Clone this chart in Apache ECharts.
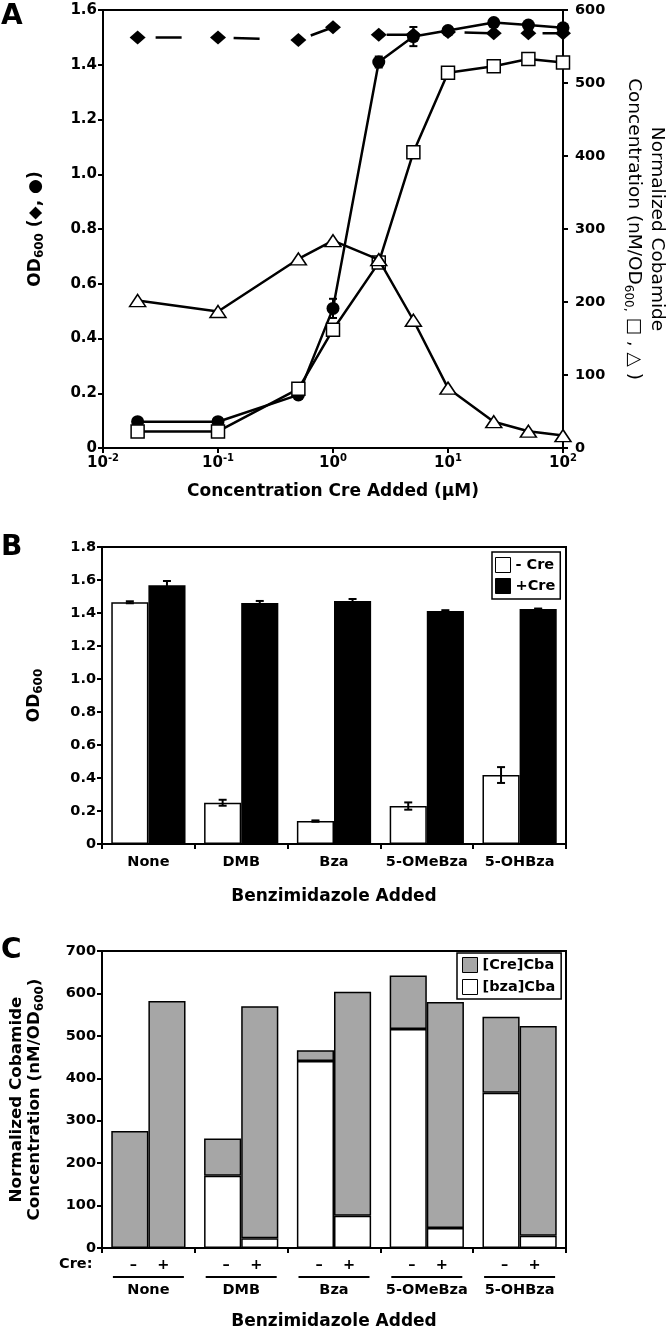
<!DOCTYPE html>
<html><head><meta charset="utf-8">
<script src="https://cdn.jsdelivr.net/npm/echarts@6/dist/echarts.min.js"></script>
<style>html,body{margin:0;padding:0;background:#fff}#c{width:666px;height:1328px}</style>
</head><body><div id="c"></div>
<script>
// ---------- Panel A data ----------
const creConc = [0.02, 0.1, 0.5, 1, 2.5, 5, 10, 25, 50, 100];
const odDiamond = [1.50, 1.50, 1.49, 1.537, 1.51, 1.51, 1.52, 1.515, 1.515, 1.515];
const odCircle = [0.096, 0.096, 0.194, 0.51, 1.41, 1.503, 1.525, 1.554, 1.545, 1.535];
const odCircleErr = [0, 0, 0, 0.035, 0.02, 0.035, 0.01, 0.01, 0.01, 0.01];
const cobaSquare = [22.7, 22.7, 81, 162, 254, 405, 514, 523, 533, 528];
const cobaTriangle = [202, 187, 259, 284, 258, 175, 82, 36, 23, 17];
// ---------- Panel B data ----------
const benzCats = ['None', 'DMB', 'Bza', '5-OMeBza', '5-OHBza'];
const odMinusCre = [1.465, 0.25, 0.139, 0.23, 0.418];
const odMinusCreErr = [0.006, 0.018, 0.004, 0.022, 0.048];
const odPlusCre = [1.568, 1.461, 1.473, 1.412, 1.424];
const odPlusCreErr = [0.026, 0.012, 0.012, 0.005, 0.003];
// ---------- Panel C data ----------
const bzaCbaMinus = [0, 170, 441, 516, 366];
const creCbaMinus = [276, 88, 25, 126, 179];
const bzaCbaPlus = [0, 23, 76, 47, 29];
const creCbaPlus = [582, 547, 528, 533, 494];
const creSigns = ['–', '+'];

const FONT = 'DejaVu Sans';
const BLK = '#000';
const axLine = {show: true, lineStyle: {color: BLK, width: 2}};
const axTick = {show: true, length: 5, lineStyle: {color: BLK, width: 2}};
const tickFont = {fontFamily: FONT, fontWeight: 'bold', color: BLK};
const nameFont = {fontFamily: FONT, fontWeight: 'bold', fontSize: 17, color: BLK};

function errA(params, api) {
  const x = api.value(0), y = api.value(1), e = api.value(2);
  if (!e) return null;
  const t = api.coord([x, y + e]), b = api.coord([x, y - e]);
  const hw = 4, st = {stroke: BLK, lineWidth: 2};
  return {type: 'group', children: [
    {type: 'line', shape: {x1: t[0], y1: t[1], x2: b[0], y2: b[1]}, style: st},
    {type: 'line', shape: {x1: t[0] - hw, y1: t[1], x2: t[0] + hw, y2: t[1]}, style: st},
    {type: 'line', shape: {x1: b[0] - hw, y1: b[1], x2: b[0] + hw, y2: b[1]}, style: st}
  ]};
}
function errB(params, api) {
  const i = api.value(0), y = api.value(1), e = api.value(2), side = api.value(3);
  const band = api.size([1, 0])[0];
  const bw = band * 0.8 / 2;
  const off = side === 0 ? -bw / 2 : bw / 2;
  const t = api.coord([i, y + e]), b = api.coord([i, y - e]);
  const x = t[0] + off, hw = 4, st = {stroke: BLK, lineWidth: 2};
  return {type: 'group', children: [
    {type: 'line', shape: {x1: x, y1: t[1], x2: x, y2: b[1]}, style: st},
    {type: 'line', shape: {x1: x - hw, y1: t[1], x2: x + hw, y2: t[1]}, style: st},
    {type: 'line', shape: {x1: x - hw, y1: b[1], x2: x + hw, y2: b[1]}, style: st}
  ]};
}
const pair = (xs, ys) => xs.map((x, i) => [x, ys[i]]);
const letterStyle = {fontFamily: FONT, fontSize: 28, fontWeight: 'bold', color: BLK};

const chart = echarts.init(document.getElementById('c'), null, {renderer: 'canvas'});
const option = {
  animation: false,
  backgroundColor: '#fff',
  textStyle: {fontFamily: FONT, color: BLK},
  title: [
    {text: 'A', left: 1, top: 3, padding: 0, textStyle: letterStyle},
    {text: 'B', left: 1, top: 534, padding: 0, textStyle: letterStyle},
    {text: 'C', left: 1, top: 937, padding: 0, textStyle: letterStyle}
  ],
  grid: [
    {left: 103, top: 10, width: 460, height: 438, show: true, borderColor: BLK, borderWidth: 2, outerBoundsMode: 'none', containLabel: false},
    {left: 102, top: 547, width: 464, height: 297, show: true, borderColor: BLK, borderWidth: 2, outerBoundsMode: 'none', containLabel: false},
    {left: 102, top: 951, width: 464, height: 297, show: true, borderColor: BLK, borderWidth: 2, outerBoundsMode: 'none', containLabel: false}
  ],
  legend: [
    {data: ['- Cre', '+Cre'], orient: 'vertical', left: 492, top: 552, icon: 'rect',
     itemWidth: 15, itemHeight: 15, itemGap: 5, padding: [5, 5, 5, 3],
     borderColor: BLK, borderWidth: 1.5,
     itemStyle: {borderColor: BLK, borderWidth: 1},
     textStyle: {fontFamily: FONT, fontWeight: 'bold', fontSize: 14.5, color: BLK}},
    {data: ['[Cre]Cba', '[bza]Cba'], orient: 'vertical', left: 457, top: 953, icon: 'rect',
     itemWidth: 15, itemHeight: 15, itemGap: 6, padding: [4, 6, 4, 5],
     borderColor: BLK, borderWidth: 1.5,
     itemStyle: {borderColor: BLK, borderWidth: 1},
     textStyle: {fontFamily: FONT, fontWeight: 'bold', fontSize: 14.5, color: BLK}}
  ],
  xAxis: [
    {type: 'log', gridIndex: 0, logBase: 10, min: 0.01, max: 100,
     axisLine: axLine, axisTick: axTick, splitLine: {show: false}, minorTick: {show: false},
     axisLabel: {margin: 5, ...tickFont, fontSize: 15,
       formatter: v => '10{s|' + Math.round(Math.log10(v)) + '}',
       rich: {s: {fontFamily: FONT, fontWeight: 'bold', fontSize: 10, padding: [0, 0, 10, 0]}}},
     name: 'Concentration Cre Added (µM)', nameLocation: 'middle', nameGap: 35, nameTextStyle: nameFont},
    {type: 'category', gridIndex: 1, data: benzCats,
     axisLine: axLine, axisTick: axTick,
     axisLabel: {margin: 11, interval: 0, ...tickFont, fontSize: 14.5},
     name: 'Benzimidazole Added', nameLocation: 'middle', nameGap: 44, nameTextStyle: nameFont},
    {type: 'category', gridIndex: 2, data: benzCats,
     axisLine: axLine, axisTick: axTick,
     axisLabel: {margin: 9, interval: 0,
       formatter: v => '{m|' + creSigns[0] + '}{p|' + creSigns[1] + '}\n{ln|}\n{nm|' + v + '}',
       rich: {
         m: {width: 30, align: 'center', fontFamily: FONT, fontWeight: 'bold', fontSize: 14.5, lineHeight: 16},
         p: {width: 30, align: 'center', fontFamily: FONT, fontWeight: 'bold', fontSize: 14.5, lineHeight: 16},
         ln: {width: 71, height: 2, backgroundColor: BLK, lineHeight: 8},
         nm: {fontFamily: FONT, fontWeight: 'bold', fontSize: 14.5, lineHeight: 18}
       }},
     name: 'Benzimidazole Added', nameLocation: 'middle', nameGap: 65, nameTextStyle: nameFont}
  ],
  yAxis: [
    {type: 'value', gridIndex: 0, min: 0, max: 1.6, interval: 0.2, position: 'left',
     axisLine: axLine, axisTick: axTick, splitLine: {show: false},
     axisLabel: {margin: 6, ...tickFont, fontSize: 15, formatter: v => v === 0 ? '0' : v.toFixed(1)},
     name: 'OD{s|600} (◆, ●)', nameLocation: 'middle', nameRotate: 90, nameGap: 57,
     nameTextStyle: {...nameFont, rich: {s: {fontFamily: FONT, fontWeight: 'bold', fontSize: 12, padding: [9, 0, 0, 0]}}}},
    {type: 'value', gridIndex: 0, min: 0, max: 600, interval: 100, position: 'right',
     axisLine: axLine, axisTick: axTick, splitLine: {show: false},
     axisLabel: {margin: 12, ...tickFont, fontSize: 14.5},
     name: '{a|Normalized Cobamide}\n{a|Concentration (nM/OD}{s|600,}{a| □ , △ )}', nameLocation: 'middle', nameRotate: -90, nameGap: 59,
     nameTextStyle: {fontFamily: FONT, fontSize: 18.5, color: BLK, lineHeight: 23,
       rich: {a: {fontFamily: FONT, fontSize: 18.5, color: BLK, lineHeight: 23},
              s: {fontFamily: FONT, fontSize: 12, color: BLK, padding: [10, 0, 0, 0]}}}},
    {type: 'value', gridIndex: 1, min: 0, max: 1.8, interval: 0.2,
     axisLine: axLine, axisTick: axTick, splitLine: {show: false},
     axisLabel: {margin: 6, ...tickFont, fontSize: 14.5, formatter: v => v === 0 ? '0' : v.toFixed(1)},
     name: 'OD{s|600}', nameLocation: 'middle', nameRotate: 90, nameGap: 57,
     nameTextStyle: {...nameFont, rich: {s: {fontFamily: FONT, fontWeight: 'bold', fontSize: 12, padding: [9, 0, 0, 0]}}}},
    {type: 'value', gridIndex: 2, min: 0, max: 700, interval: 100,
     axisLine: axLine, axisTick: axTick, splitLine: {show: false},
     axisLabel: {margin: 6, ...tickFont, fontSize: 14.5},
     name: '{a|Normalized Cobamide}\n{a|Concentration (nM/OD}{s|600}{a|)}', nameLocation: 'middle', nameRotate: 90, nameGap: 58,
     nameTextStyle: {...nameFont, lineHeight: 18,
       rich: {a: {fontFamily: FONT, fontWeight: 'bold', fontSize: 16.7, lineHeight: 18},
              s: {fontFamily: FONT, fontWeight: 'bold', fontSize: 12, padding: [9, 0, 0, 0]}}}}
  ],
  graphic: [
    {type: 'text', left: 59, top: 1257, style: {text: 'Cre:', font: 'bold 14.5px "DejaVu Sans"', fill: BLK}}
  ],
  series: [
    // Panel A
    {name: 'OD diamond', type: 'line', xAxisIndex: 0, yAxisIndex: 0, data: pair(creConc, odDiamond),
     symbol: 'diamond', symbolSize: [16, 14], itemStyle: {color: BLK},
     lineStyle: {color: BLK, width: 2.5, type: [26, 52], dashOffset: 60}, z: 3},
    {name: 'OD circle', type: 'line', xAxisIndex: 0, yAxisIndex: 0, data: pair(creConc, odCircle),
     symbol: 'circle', symbolSize: 13, itemStyle: {color: BLK},
     lineStyle: {color: BLK, width: 2.5}, z: 4},
    {name: 'circle err', type: 'custom', xAxisIndex: 0, yAxisIndex: 0,
     data: creConc.map((x, i) => [x, odCircle[i], odCircleErr[i]]), renderItem: errA, z: 4},
    {name: 'Cobamide square', type: 'line', xAxisIndex: 0, yAxisIndex: 1, data: pair(creConc, cobaSquare),
     symbol: 'rect', symbolSize: 13, itemStyle: {color: '#fff', borderColor: BLK, borderWidth: 1.5},
     lineStyle: {color: BLK, width: 2.5}, z: 5},
    {name: 'Cobamide triangle', type: 'line', xAxisIndex: 0, yAxisIndex: 1, data: pair(creConc, cobaTriangle),
     symbol: 'triangle', symbolSize: [16, 12], itemStyle: {color: '#fff', borderColor: BLK, borderWidth: 1.5},
     lineStyle: {color: BLK, width: 2.5}, z: 6},
    // Panel B
    {name: '- Cre', type: 'bar', xAxisIndex: 1, yAxisIndex: 2, data: odMinusCre,
     barGap: '0%', barCategoryGap: '20%', itemStyle: {color: '#fff', borderColor: BLK, borderWidth: 1.5}},
    {name: '+Cre', type: 'bar', xAxisIndex: 1, yAxisIndex: 2, data: odPlusCre,
     barGap: '0%', barCategoryGap: '20%', itemStyle: {color: BLK, borderColor: BLK, borderWidth: 1.5}},
    {name: 'B err', type: 'custom', xAxisIndex: 1, yAxisIndex: 2, renderItem: errB, z: 5,
     data: odMinusCre.map((v, i) => [i, v, odMinusCreErr[i], 0]).concat(odPlusCre.map((v, i) => [i, v, odPlusCreErr[i], 1]))},
    // Panel C
    {name: '[bza]Cba', type: 'bar', stack: 'minus', xAxisIndex: 2, yAxisIndex: 3, data: bzaCbaMinus,
     barGap: '0%', barCategoryGap: '20%', itemStyle: {color: '#fff', borderColor: BLK, borderWidth: 1.5}},
    {name: '[Cre]Cba', type: 'bar', stack: 'minus', xAxisIndex: 2, yAxisIndex: 3, data: creCbaMinus,
     barGap: '0%', barCategoryGap: '20%', itemStyle: {color: '#a6a6a6', borderColor: BLK, borderWidth: 1.5}},
    {name: '[bza]Cba', type: 'bar', stack: 'plus', xAxisIndex: 2, yAxisIndex: 3, data: bzaCbaPlus,
     barGap: '0%', barCategoryGap: '20%', itemStyle: {color: '#fff', borderColor: BLK, borderWidth: 1.5}},
    {name: '[Cre]Cba', type: 'bar', stack: 'plus', xAxisIndex: 2, yAxisIndex: 3, data: creCbaPlus,
     barGap: '0%', barCategoryGap: '20%', itemStyle: {color: '#a6a6a6', borderColor: BLK, borderWidth: 1.5}}
  ]
};
chart.setOption(option);
</script></body></html>
